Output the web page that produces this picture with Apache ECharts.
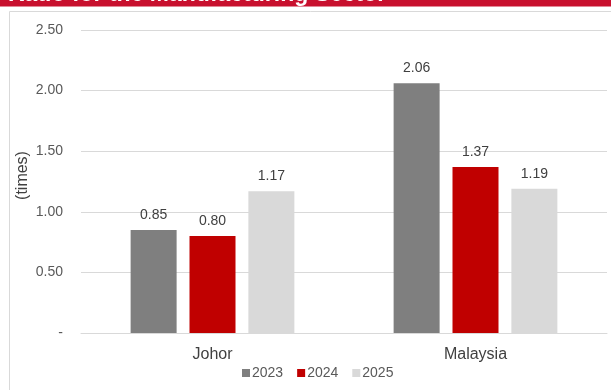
<!DOCTYPE html>
<html>
<head>
<meta charset="utf-8">
<script src="https://cdn.jsdelivr.net/npm/echarts@6/dist/echarts.min.js"></script>
<style>
  html, body { margin: 0; padding: 0; background: #fff; }
  #chart { width: 611px; height: 390px; }
</style>
</head>
<body>
<div id="chart"></div>
<script>
// Categories and yearly ratios
const regions = ['Johor', 'Malaysia'];
const years = ['2023', '2024', '2025'];
const values2023 = [0.85, 2.06];
const values2024 = [0.80, 1.37];
const values2025 = [1.17, 1.19];
const colors = ['#7f7f7f', '#c00000', '#d9d9d9'];
const titleText = 'Ratio for the Manufacturing Sector';

const chart = echarts.init(document.getElementById('chart'), null, { renderer: 'canvas' });
const font = '"Liberation Sans", Arial, sans-serif';
const seriesData = [values2023, values2024, values2025];

chart.setOption({
  animation: false,
  textStyle: { fontFamily: font },
  graphic: [
    { type: 'rect', shape: { x: 0, y: 0, width: 611, height: 6.5 }, style: { fill: '#c8102e' }, z: 10 },
    { type: 'text', left: 8, top: -17, z: 11,
      style: { text: titleText, fill: '#ffffff', font: 'bold 23px ' + font } },
    { type: 'rect', shape: { x: 9.5, y: 11.5, width: 640, height: 400 },
      style: { fill: 'none', stroke: '#d9d9d9', lineWidth: 1 }, z: -1 }
  ],
  grid: { left: 81, right: 4, top: 30, bottom: 57, containLabel: false, outerBoundsMode: 'none' },
  legend: {
    top: 366, left: 242, padding: 0, itemWidth: 8, itemHeight: 8, itemGap: 14,
    icon: 'rect',
    textStyle: { color: '#595959', fontSize: 14, fontFamily: font, padding: [0, 0, 0, -3] },
    data: years
  },
  xAxis: {
    type: 'category', data: regions,
    axisLine: { lineStyle: { color: '#d9d9d9' } },
    axisTick: { show: false },
    axisLabel: { color: '#404040', fontSize: 16, margin: 14 }
  },
  yAxis: {
    type: 'value', min: 0, max: 2.5, interval: 0.5,
    name: '(times)', nameLocation: 'middle', nameGap: 50, nameRotate: 90,
    nameMoveOverlap: false,
    nameTextStyle: { color: '#404040', fontSize: 16, padding: [0, 0, 0, 12] },
    axisLine: { show: false }, axisTick: { show: false },
    splitLine: { lineStyle: { color: '#d9d9d9' } },
    axisLabel: {
      color: '#595959', fontSize: 14, margin: 18,
      formatter: v => v === 0 ? '-' : v.toFixed(2)
    }
  },
  series: years.map((y, i) => ({
    name: y, type: 'bar', data: seriesData[i],
    barWidth: 46, barGap: '28%',
    itemStyle: { color: colors[i] },
    label: {
      show: true, position: 'top', distance: 8,
      color: '#404040', fontSize: 14,
      formatter: p => p.value.toFixed(2)
    }
  }))
});
</script>
</body>
</html>
